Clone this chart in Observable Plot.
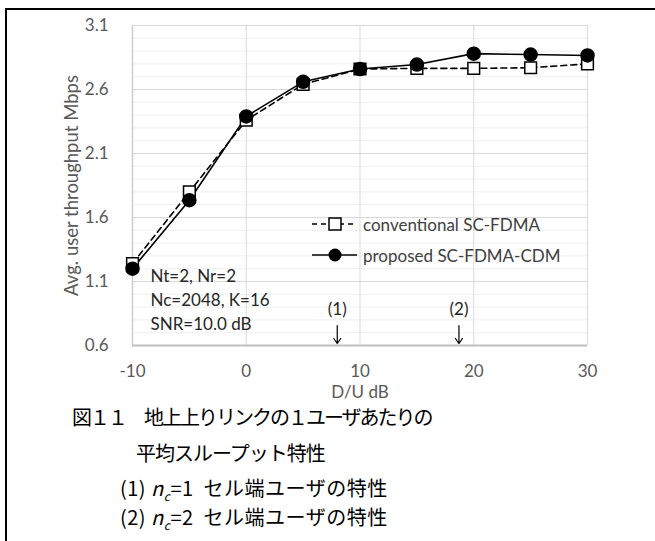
<!DOCTYPE html>
<html><head><meta charset="utf-8">
<script src="https://cdn.jsdelivr.net/npm/d3@7"></script>
<script src="https://cdn.jsdelivr.net/npm/@observablehq/plot@0.6"></script>
<style>
body{margin:0;background:#fff;}
#wrap{position:relative;width:655px;height:541px;overflow:hidden;background:#fff;}
#chart{position:absolute;left:0;top:0;}
#frame{position:absolute;left:5px;top:8px;width:700px;height:600px;border-left:2px solid #000;border-top:2px solid #000;pointer-events:none;}
.cap{position:absolute;font-family:"Noto Sans CJK JP",sans-serif;font-weight:400;font-size:20px;line-height:24px;color:#000;white-space:nowrap;}
.leg{position:absolute;left:310px;height:24px;display:flex;align-items:center;font-family:Lato,sans-serif;font-size:17px;color:#404040;white-space:nowrap;}
</style></head>
<body><div id="wrap"><div id="chart"></div><div id="legend"></div>
<div class="cap" style="left:72px;top:405px;letter-spacing:-2px;">図１１　地上上りリンクの１ユーザあたりの</div>
<div class="cap" style="left:136px;top:441px;letter-spacing:-1px;">平均スループット特性</div>
<div class="cap" style="left:120px;top:476px;letter-spacing:0.5px;">(1) <i>n</i><sub style="font-size:12px"><i>c</i></sub>=1&nbsp; セル端ユーザの特性</div>
<div class="cap" style="left:120px;top:505px;letter-spacing:0.5px;">(2) <i>n</i><sub style="font-size:12px"><i>c</i></sub>=2&nbsp; セル端ユーザの特性</div>
<div id="frame"></div></div>
<script>
const dU = [-10, -5, 0, 5, 10, 15, 20, 25, 30];
const conventional = [1.24, 1.80, 2.36, 2.64, 2.76, 2.765, 2.765, 2.77, 2.80];
const proposed = [1.20, 1.735, 2.39, 2.66, 2.76, 2.795, 2.88, 2.873, 2.866];
const seriesNames = ["conventional SC-FDMA", "proposed SC-FDMA-CDM"];
const xTicks = [-10, 0, 10, 20, 30];
const yTicks = [0.6, 1.1, 1.6, 2.1, 2.6, 3.1];
const yMinor = [0.7, 0.8, 0.9, 1.0, 1.2, 1.3, 1.4, 1.5, 1.7, 1.8, 1.9, 2.0, 2.2, 2.3, 2.4, 2.5, 2.7, 2.8, 2.9, 3.0];
const noteLines = ["Nt=2, Nr=2", "Nc=2048, K=16", "SNR=10.0 dB"];
const markerX = [8, 18.7];
const markerLabels = ["(1)", "(2)"];
const xLabel = "D/U dB";
const yLabel = "Avg. user throughput Mbps";

const rowsC = dU.map((x, i) => ({x, y: conventional[i]}));
const rowsP = dU.map((x, i) => ({x, y: proposed[i]}));
const markers = markerX.map((x, i) => ({x, label: markerLabels[i]}));
const arrowShape = {draw(ctx, l) { const w = 3.5; ctx.moveTo(0, 0); ctx.lineTo(0, -l); ctx.moveTo(-w, 5 - l); ctx.lineTo(0, -l); ctx.lineTo(w, 5 - l); }};

const plot = Plot.plot({
  width: 655, height: 405, marginLeft: 132, marginRight: 68, marginTop: 25, marginBottom: 60,
  style: {fontFamily: "Lato, sans-serif", fontSize: "17px", color: "#595959", background: "transparent", overflow: "visible"},
  x: {domain: [-10, 30]},
  y: {domain: [0.6, 3.1]},
  marks: [
    Plot.gridY(yMinor, {stroke: "#efefef", strokeOpacity: 1}),
    Plot.gridY(yTicks, {stroke: "#d9d9d9", strokeOpacity: 1}),
    Plot.gridX(xTicks, {stroke: "#d9d9d9", strokeOpacity: 1}),
    Plot.ruleX([-10], {stroke: "#cccccc", strokeWidth: 1.5}),
    Plot.ruleY([0.6], {stroke: "#bfbfbf", strokeWidth: 2}),
    Plot.axisX({ticks: xTicks, tickSize: 0, tickPadding: 19, label: null, tickFormat: d => String(d), fontSize: 17}),
    Plot.axisY({ticks: yTicks, tickSize: 0, tickPadding: 24, label: null, tickFormat: d => d.toFixed(1), fontSize: 17}),
    Plot.text([xLabel], {text: d => d, frameAnchor: "bottom", lineAnchor: "middle", dy: 47, fill: "#595959", fontSize: 17}),
    Plot.text([yLabel], {text: d => d, frameAnchor: "left", textAnchor: "middle", lineAnchor: "middle", dx: -60, rotate: -90, fill: "#595959", fontSize: 18.5}),
    Plot.text([noteLines.join("\n")], {text: d => d, frameAnchor: "bottom-left", textAnchor: "start", lineAnchor: "middle", dx: 18, dy: -47, lineHeight: 1.41, fill: "#262626", fontSize: 17}),
    Plot.text(markers, {x: "x", text: "label", frameAnchor: "bottom", lineAnchor: "middle", dy: -36, fill: "#262626", fontSize: 17}),
    Plot.vector(markers, {x: "x", frameAnchor: "bottom", dy: -2, length: 18, rotate: 180, anchor: "end", shape: arrowShape, stroke: "#000", strokeWidth: 1.2}),
    Plot.line(rowsC, {x: "x", y: "y", stroke: "#000", strokeWidth: 1.6, strokeDasharray: "6,4"}),
    Plot.line(rowsP, {x: "x", y: "y", stroke: "#000", strokeWidth: 1.6}),
    Plot.dot(rowsC, {x: "x", y: "y", symbol: "square", r: 6.6, fill: "#fff", stroke: "#000", strokeWidth: 1.5}),
    Plot.dot(rowsP, {x: "x", y: "y", symbol: "circle", r: 6.5, fill: "#000", stroke: "#000"})
  ]
});
document.getElementById("chart").appendChild(plot);

const leg = d3.select("#legend");
const legTops = [212, 243];
seriesNames.forEach((name, i) => {
  const row = leg.append("div").attr("class", "leg").style("top", legTops[i] + "px");
  const svg = row.append("svg").attr("width", 50).attr("height", 24);
  svg.append("line").attr("x1", 2).attr("x2", 47).attr("y1", 12).attr("y2", 12)
    .attr("stroke", "#000").attr("stroke-width", 1.6).attr("stroke-dasharray", i === 0 ? "5,4" : null);
  if (i === 0) svg.append("rect").attr("x", 19).attr("y", 6).attr("width", 12).attr("height", 12).attr("fill", "#fff").attr("stroke", "#000").attr("stroke-width", 1.5);
  else svg.append("circle").attr("cx", 25).attr("cy", 12).attr("r", 6.5).attr("fill", "#000");
  row.append("span").style("margin-left", "3px").text(name);
});
</script></body></html>
